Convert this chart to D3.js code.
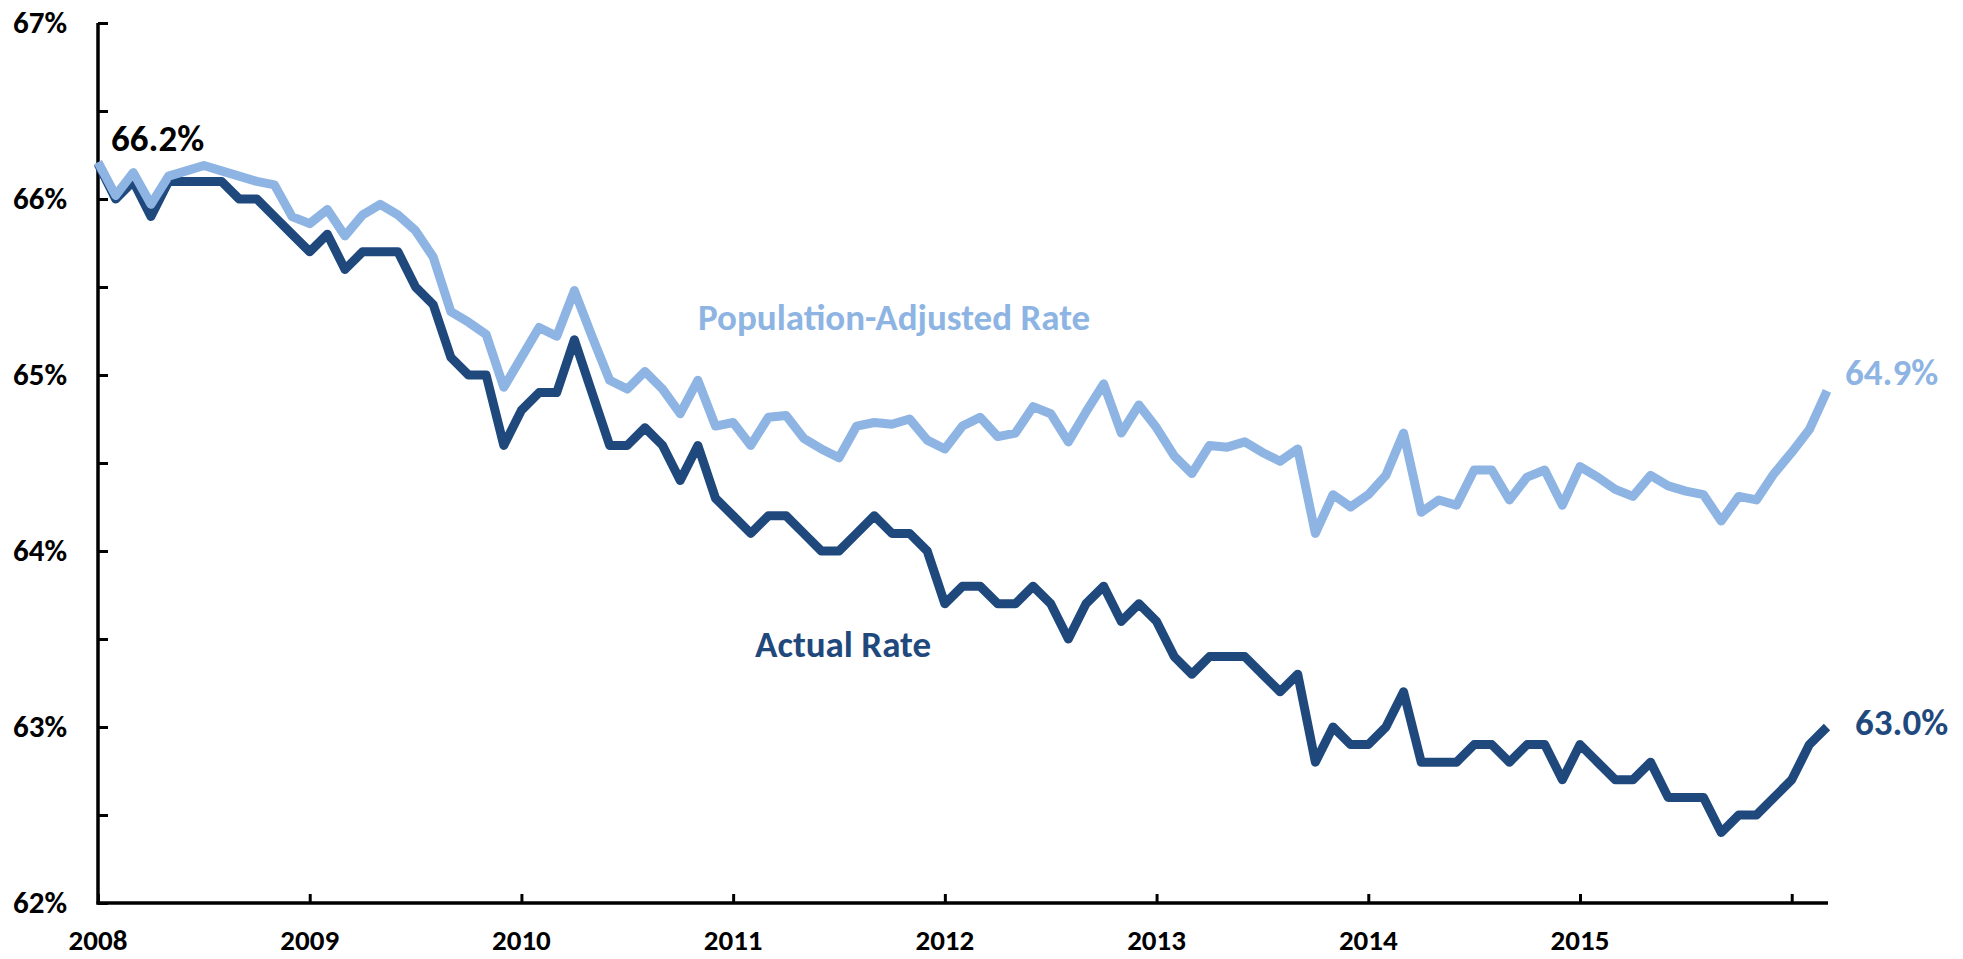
<!DOCTYPE html>
<html>
<head>
<meta charset="utf-8">
<script src="https://cdn.jsdelivr.net/npm/d3@7"></script>
<style>
  html, body { margin: 0; padding: 0; background: #fff; }
  svg { display: block; }
  text { font-family: Calibri, Carlito, "Open Sans", sans-serif; font-weight: bold; }
</style>
</head>
<body>
<svg id="chart" width="1963" height="959"></svg>
<script>
// ---- data (monthly, Jan 2008 .. Mar 2016) ----
const startYear = 2008;
const yearLabels = ["2008", "2009", "2010", "2011", "2012", "2013", "2014", "2015", ""];
const yTickValues = [62, 62.5, 63, 63.5, 64, 64.5, 65, 65.5, 66, 66.5, 67];
const yLabelValues = [62, 63, 64, 65, 66, 67];

const actualRate = [
  66.2, 66.0, 66.1, 65.9, 66.1, 66.1, 66.1, 66.1, 66.0, 66.0, 65.9, 65.8,
  65.7, 65.8, 65.6, 65.7, 65.7, 65.7, 65.5, 65.4, 65.1, 65.0, 65.0, 64.6,
  64.8, 64.9, 64.9, 65.2, 64.9, 64.6, 64.6, 64.7, 64.6, 64.4, 64.6, 64.3,
  64.2, 64.1, 64.2, 64.2, 64.1, 64.0, 64.0, 64.1, 64.2, 64.1, 64.1, 64.0,
  63.7, 63.8, 63.8, 63.7, 63.7, 63.8, 63.7, 63.5, 63.7, 63.8, 63.6, 63.7,
  63.6, 63.4, 63.3, 63.4, 63.4, 63.4, 63.3, 63.2, 63.3, 62.8, 63.0, 62.9,
  62.9, 63.0, 63.2, 62.8, 62.8, 62.8, 62.9, 62.9, 62.8, 62.9, 62.9, 62.7,
  62.9, 62.8, 62.7, 62.7, 62.8, 62.6, 62.6, 62.6, 62.4, 62.5, 62.5, 62.6,
  62.7, 62.9, 63.0
];

const adjustedRate = [
  66.21, 66.02, 66.15, 65.97, 66.13, 66.16, 66.19, 66.16, 66.13, 66.10, 66.08, 65.90,
  65.86, 65.94, 65.79, 65.91, 65.97, 65.91, 65.82, 65.67, 65.36, 65.30, 65.23, 64.93,
  65.10, 65.27, 65.22, 65.48, 65.22, 64.97, 64.92, 65.02, 64.92, 64.78, 64.97, 64.71,
  64.73, 64.60, 64.76, 64.77, 64.64, 64.58, 64.53, 64.71, 64.73, 64.72, 64.75, 64.63,
  64.58, 64.71, 64.76, 64.65, 64.67, 64.82, 64.78, 64.62, 64.79, 64.95, 64.67, 64.83,
  64.70, 64.54, 64.44, 64.60, 64.59, 64.62, 64.56, 64.51, 64.58, 64.10, 64.32, 64.25,
  64.32, 64.43, 64.67, 64.22, 64.29, 64.26, 64.46, 64.46, 64.29, 64.42, 64.46, 64.26,
  64.48, 64.42, 64.35, 64.31, 64.43, 64.37, 64.34, 64.32, 64.17, 64.31, 64.29, 64.44,
  64.56, 64.69, 64.91
];

const seriesNames = ["Population-Adjusted Rate", "Actual Rate"];
const endLabels = ["64.9%", "63.0%"];
const startLabel = "66.2%";

// ---- layout ----
const darkBlue = "#1F497D";
const lightBlue = "#8DB4E2";
const svg = d3.select("#chart");
const nMonths = actualRate.length;

const x = d3.scaleLinear().domain([0, nMonths - 1]).range([98, 1827]);
const y = d3.scaleLinear().domain([62, 67]).range([903, 23]);

// axes
const yAxis = d3.axisLeft(y).tickValues(yTickValues).tickSize(-10).tickFormat("");
const gy = svg.append("g").attr("transform", `translate(${x(0)},0)`).call(yAxis);
const xTicks = yearLabels.map((d, i) => i * 12);
const xAxis = d3.axisBottom(x).tickValues(xTicks).tickSize(-9).tickFormat("");
const gx = svg.append("g").attr("transform", `translate(0,${y(62)})`).call(xAxis);
[gx, gy].forEach(g => {
  g.select(".domain").attr("stroke", "#000").attr("stroke-width", 3.5);
  g.selectAll(".tick line").attr("stroke", "#000").attr("stroke-width", 3);
});
gx.select(".domain").attr("d", `M${x(0) - 1.5},0H${x(nMonths - 1) + 1}`);
gy.select(".domain").attr("d", `M0,${y(67)}V${y(62) + 1.5}`);

// y labels
svg.append("g").selectAll("text").data(yLabelValues).join("text")
  .attr("x", 67).attr("y", d => y(d))
  .attr("dy", "0.33em")
  .attr("text-anchor", "end")
  .attr("font-size", 31)
  .attr("fill", "#000")
  .text(d => d + "%");

// x labels
svg.append("g").selectAll("text").data(yearLabels).join("text")
  .attr("x", (d, i) => x(i * 12)).attr("y", 950)
  .attr("text-anchor", "middle")
  .attr("font-size", 29)
  .attr("fill", "#000")
  .text(d => d);

// lines
const line = d3.line().x((d, i) => x(i)).y(d => y(d));
svg.append("path").datum(actualRate)
  .attr("d", line).attr("fill", "none")
  .attr("stroke", darkBlue).attr("stroke-width", 9)
  .attr("stroke-linejoin", "round");
svg.append("path").datum(adjustedRate)
  .attr("d", line).attr("fill", "none")
  .attr("stroke", lightBlue).attr("stroke-width", 9)
  .attr("stroke-linejoin", "round");

// annotations
svg.append("text").attr("x", 111).attr("y", 151)
  .attr("font-size", 37).attr("fill", "#000").text(startLabel);
svg.append("text").attr("x", 1845).attr("y", 385)
  .attr("font-size", 37).attr("fill", lightBlue).text(endLabels[0]);
svg.append("text").attr("x", 1855).attr("y", 735)
  .attr("font-size", 37).attr("fill", darkBlue).text(endLabels[1]);
svg.append("text").attr("x", 698).attr("y", 330)
  .attr("font-size", 37).attr("fill", lightBlue).text(seriesNames[0]);
svg.append("text").attr("x", 755).attr("y", 657)
  .attr("font-size", 37).attr("fill", darkBlue).text(seriesNames[1]);
</script>
</body>
</html>
